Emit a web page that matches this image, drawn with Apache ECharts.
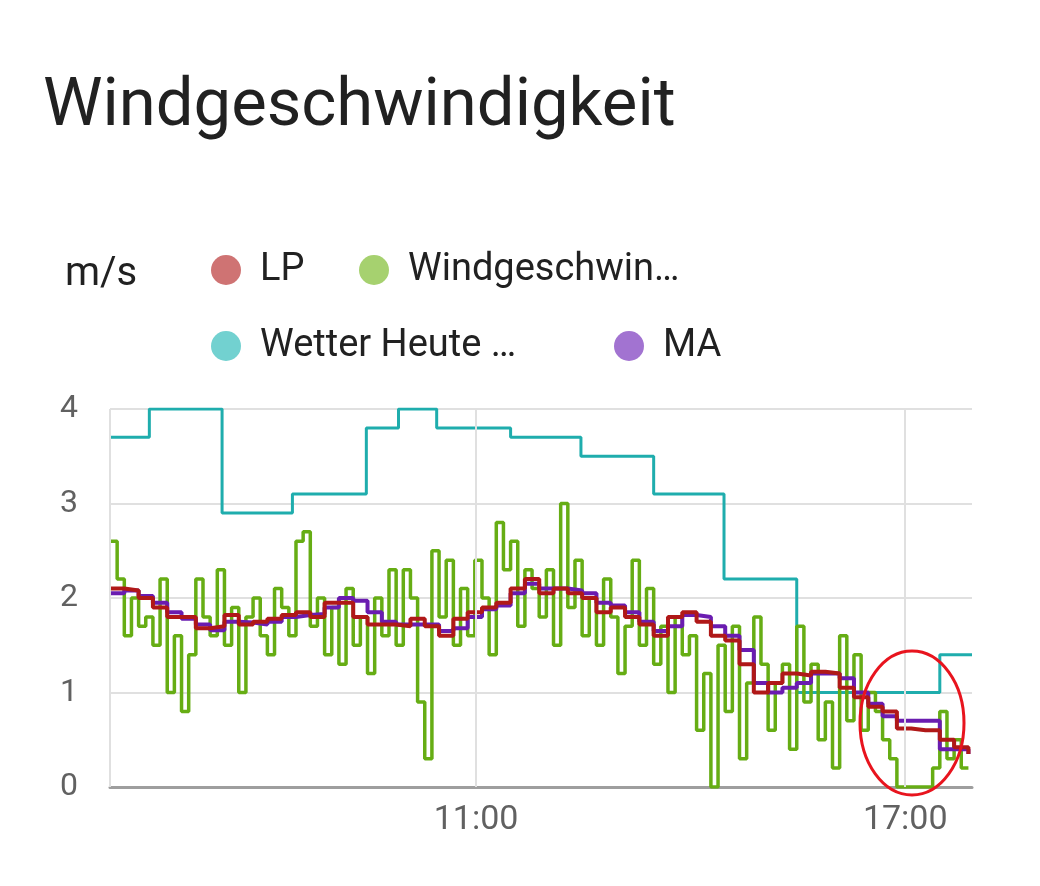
<!DOCTYPE html>
<html style="height: 100%">
<head>
  <meta charset="utf-8">
  <title>Windgeschwindigkeit</title>
</head>
<body style="height: 100%; margin: 0; background: #fff">
  <div id="container" style="width: 1040px; height: 886px"></div>
  <script src="https://cdn.jsdelivr.net/npm/echarts@6/dist/echarts.min.js"></script>
  <script type="text/javascript">
    // times are minutes after midnight
    var startMin = 353, endMin = 1076;
    var forecastTimes = [353, 386, 447, 506, 568, 595, 627, 689, 748, 809, 868, 929, 1049, 1076];
    var forecastValues = [3.7, 4.0, 2.9, 3.1, 3.8, 4.0, 3.8, 3.7, 3.5, 3.1, 2.2, 1.0, 1.4, 1.4];
    // wind sensor, one reading per 6 minutes
    var windValues = [
      2.6, 2.2, 1.6, 2.0, 1.7, 1.8, 1.5, 2.2, 1.0, 1.6,
      0.8, 1.4, 2.2, 1.8, 1.6, 2.3, 1.5, 1.9, 1.0, 1.8,
      2.0, 1.6, 1.4, 2.1, 1.9, 1.6, 2.6, 2.7, 1.7, 2.0,
      1.4, 1.9, 1.3, 2.1, 1.5, 1.8, 1.2, 2.0, 1.6, 2.3,
      1.5, 2.3, 2.0, 0.9, 0.3, 2.5, 1.8, 2.4, 1.5, 2.1,
      1.6, 2.4, 2.0, 1.4, 2.8, 2.3, 2.6, 1.7, 2.3, 2.1,
      1.8, 2.3, 1.5, 3.0, 1.9, 2.4, 1.6, 2.0, 1.5, 2.2,
      1.8, 1.2, 1.7, 2.4, 1.5, 2.1, 1.3, 1.7, 1.0, 1.8,
      1.4, 1.6, 0.6, 1.2, 0.0, 1.5, 0.8, 1.7, 0.3, 1.1,
      1.8, 1.3, 0.6, 1.1, 1.3, 0.4, 1.7, 0.9, 1.3, 0.5,
      0.9, 0.2, 1.6, 0.7, 1.4, 0.6, 1.0, 0.8, 0.5, 0.3,
      0.0, 0.0, 0.0, 0.0, 0.0, 0.2, 0.8, 0.3, 0.5, 0.2,
      0.2
    ];
    // LP and MA, one reading per 12 minutes
    var lpValues = [
      2.1, 2.08, 2.0, 1.9, 1.8, 1.8, 1.68, 1.7, 1.82, 1.72,
      1.75, 1.78, 1.82, 1.85, 1.8, 1.95, 1.95, 1.8, 1.72, 1.72,
      1.7, 1.78, 1.7, 1.6, 1.78, 1.85, 1.9, 1.95, 2.1, 2.2,
      2.05, 2.1, 2.05, 2.0, 1.85, 1.9, 1.8, 1.72, 1.6, 1.8,
      1.85, 1.75, 1.6, 1.55, 1.3, 1.0, 1.1, 1.2, 1.18, 1.22,
      1.2, 1.05, 0.95, 0.85, 0.8, 0.62, 0.6, 0.6, 0.5, 0.42,
      0.35
    ];
    var maValues = [
      2.05, 2.08, 2.02, 1.95, 1.85, 1.78, 1.72, 1.66, 1.75, 1.74,
      1.72, 1.75, 1.8, 1.82, 1.83, 1.9, 2.0, 1.97, 1.85, 1.75,
      1.72, 1.72, 1.72, 1.65, 1.68, 1.8, 1.88, 1.92, 2.05, 2.15,
      2.1, 2.1, 2.08, 2.05, 1.95, 1.92, 1.85, 1.75, 1.65, 1.7,
      1.82, 1.8, 1.7, 1.6, 1.45, 1.1, 1.0, 1.05, 1.1, 1.2,
      1.2, 1.15, 1.0, 0.88, 0.75, 0.7, 0.7, 0.7, 0.4, 0.4,
      0.35
    ];
    var xLabelValues = [660, 1020];

    function pairs(times, values) {
      return values.map(function (v, i) { return [times[i], v]; });
    }
    function evenly(values, step) {
      return values.map(function (v, i) { return [startMin + step * i, v]; });
    }
    function hhmm(m) {
      var h = Math.floor(m / 60), mm = m % 60;
      return (h < 10 ? '0' : '') + h + ':' + (mm < 10 ? '0' : '') + mm;
    }

    var names = {
      lp: 'LP',
      wind: 'Windgeschwindigkeit',
      forecast: 'Wetter Heute Windgeschwindigkeit',
      ma: 'MA'
    };
    var shortNames = {};
    shortNames[names.lp] = 'LP';
    shortNames[names.wind] = 'Windgeschwin…';
    shortNames[names.forecast] = 'Wetter Heute …';
    shortNames[names.ma] = 'MA';

    var font = 'Roboto, sans-serif';

    function legendItem(name, color, left, top) {
      return {
        left: left, top: top,
        icon: 'circle', itemWidth: 30, itemHeight: 30,
        textStyle: { fontSize: 38, color: '#212121', fontFamily: font, padding: [0, 0, 0, 14] },
        formatter: function (n) { return shortNames[n]; },
        data: [{ name: name, itemStyle: { color: color } }]
      };
    }

    var dom = document.getElementById("container");
    var myChart = echarts.init(dom);
    var option = {
      backgroundColor: '#fff',
      animation: false,
      title: {
        text: 'Windgeschwindigkeit',
        left: 38, top: 70,
        textStyle: { fontSize: 67, fontWeight: 'normal', color: '#212121', fontFamily: font }
      },
      graphic: [
        { type: 'text', left: 65, top: 255, style: { text: 'm/s', fontSize: 40, fill: '#212121', fontFamily: font } },
        { type: 'ellipse', shape: { cx: 912, cy: 723, rx: 52, ry: 72 },
          style: { fill: 'none', stroke: '#e8141e', lineWidth: 3 }, z: 100 }
      ],
      legend: [
        legendItem(names.lp, '#cf7373', 206, 246),
        legendItem(names.wind, '#a6d16f', 354, 246),
        legendItem(names.forecast, '#72d1d0', 206, 322),
        legendItem(names.ma, '#a273d1', 609, 322)
      ],
      grid: { left: 110, right: 68, top: 409, bottom: 99 },
      xAxis: {
        type: 'value', min: startMin, max: endMin,
        axisLine: { lineStyle: { color: '#9e9e9e', width: 3 } },
        axisTick: { show: false },
        axisLabel: {
          customValues: xLabelValues,
          formatter: hhmm, fontSize: 34, color: '#616161', margin: 16, fontFamily: font
        },
        splitLine: { show: false }
      },
      yAxis: {
        type: 'value', min: 0, max: 4, interval: 1,
        axisLine: { show: false },
        axisTick: { show: false },
        axisLabel: { fontSize: 32, color: '#616161', margin: 32, fontFamily: font },
        splitLine: { lineStyle: { color: '#e0e0e0', width: 2 } }
      },
      series: [
        {
          // vertical grid lines
          type: 'line', data: [], silent: true,
          markLine: {
            symbol: 'none', silent: true, label: { show: false },
            lineStyle: { color: '#e0e0e0', width: 2, type: 'solid' },
            data: [{ xAxis: startMin }].concat(xLabelValues.map(function (v) { return { xAxis: v }; }))
          }
        },
        { name: names.forecast, type: 'line', step: 'end', showSymbol: false,
          data: pairs(forecastTimes, forecastValues),
          lineStyle: { color: '#1fadad', width: 3 }, itemStyle: { color: '#1fadad' } },
        { name: names.wind, type: 'line', step: 'end', showSymbol: false,
          data: evenly(windValues, 6),
          lineStyle: { color: '#66ad14', width: 3.5 }, itemStyle: { color: '#66ad14' } },
        { name: names.ma, type: 'line', step: 'end', showSymbol: false,
          data: evenly(maValues, 12),
          lineStyle: { color: '#6a1cb0', width: 4 }, itemStyle: { color: '#6a1cb0' } },
        { name: names.lp, type: 'line', step: 'end', showSymbol: false,
          data: evenly(lpValues, 12),
          lineStyle: { color: '#b01818', width: 4 }, itemStyle: { color: '#b01818' } }
      ]
    };
    myChart.setOption(option, true);
  </script>
</body>
</html>
